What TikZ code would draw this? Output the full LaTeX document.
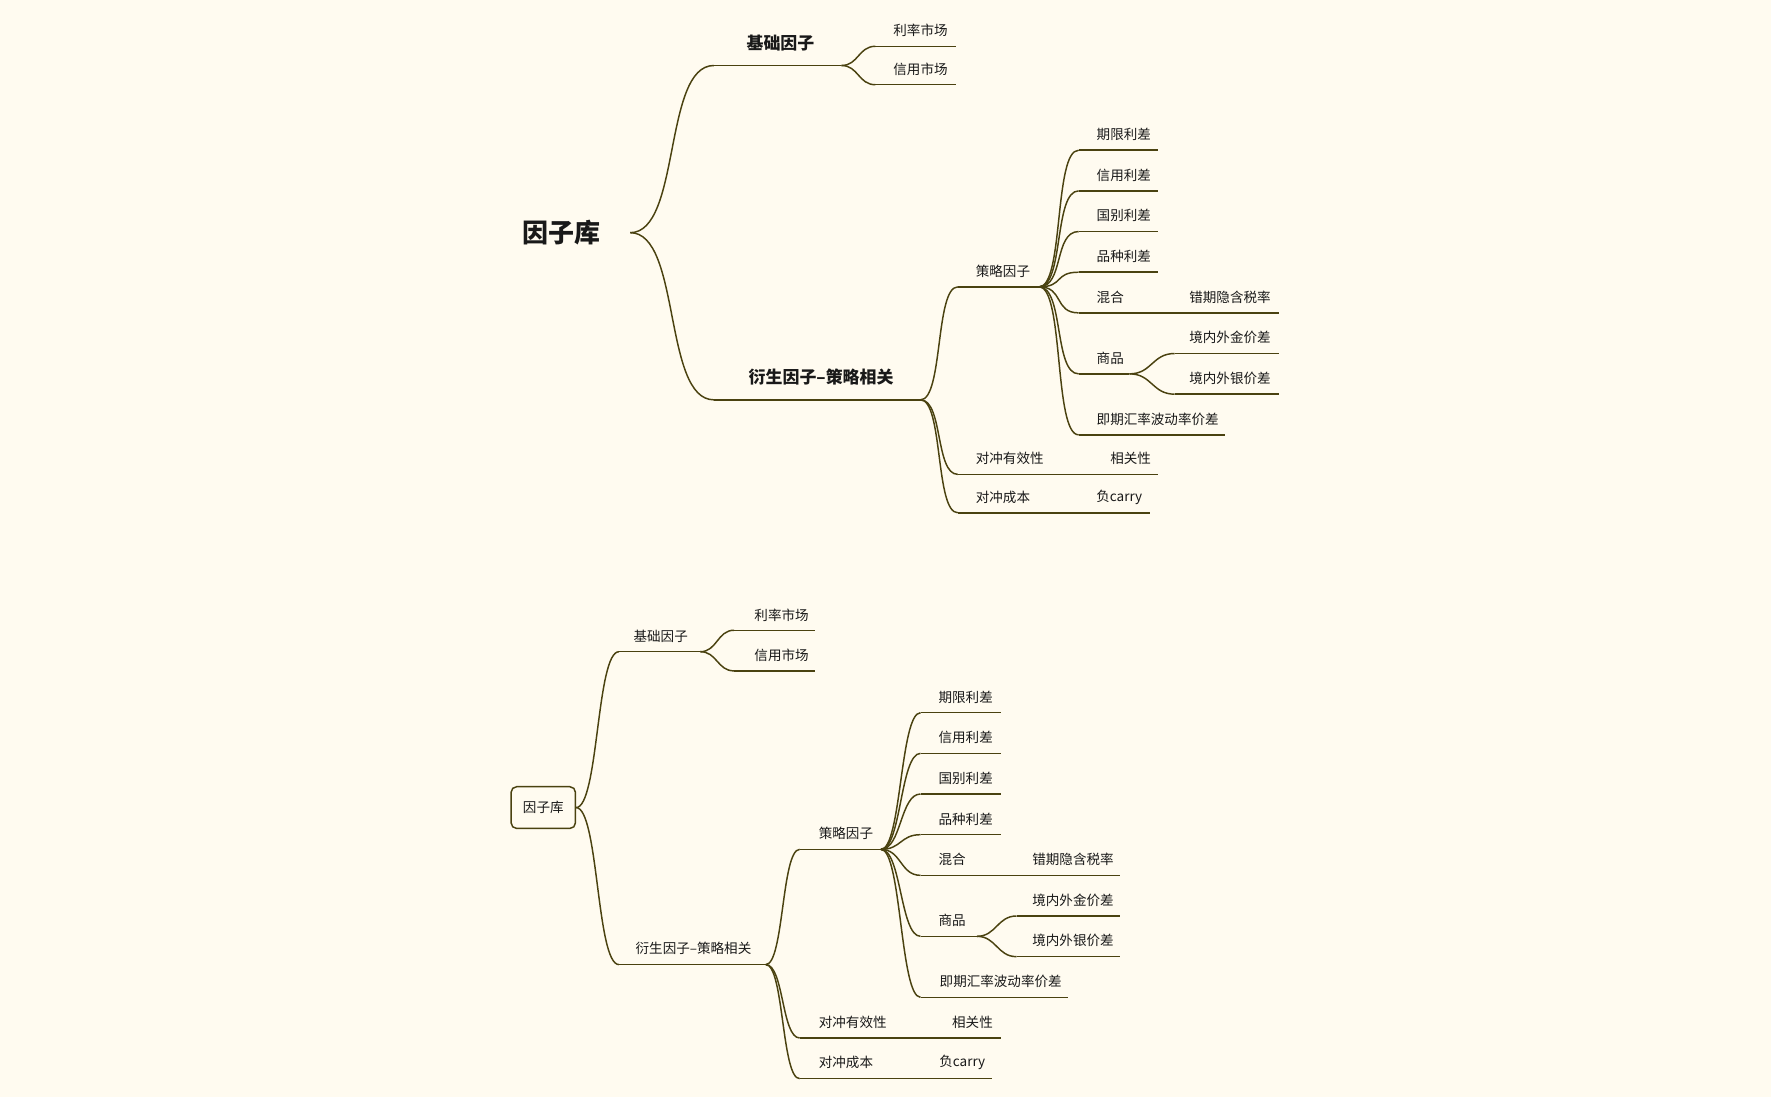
\documentclass[tikz,border=0pt]{standalone}
\usepackage{fontspec}
\setmainfont{Noto Sans CJK SC}
\begin{document}
\begin{tikzpicture}[x=1pt,y=-1pt,line width=1.3pt,
  ln/.style={draw=lc},
  lab/.style={font=\fontsize{12}{12}\selectfont,text=black!90,anchor=center,inner sep=0},
  big/.style={font=\fontsize{15}{15}\selectfont\bfseries,text=black!90,inner sep=0},
  cv/.style={draw=lc}]
\definecolor{lc}{HTML}{4A4210}
\definecolor{bg}{HTML}{FFFBF0}
\fill[bg] (0,0) rectangle (1568,971);
\useasboundingbox (0,0) rectangle (1568,971);
\newcommand\cc[3]{\draw[cv] (#1) .. controls +(#3,0) and +(-#3,0) .. (#2);}
% ---------- top map ----------
\node[big,font=\fontsize{23}{23}\selectfont\bfseries] (R1) at (497,206) {因子库};
\coordinate (r1) at (558,206);
\coordinate (a1) at (632,58); \coordinate (a1e) at (745,58);
\node[big] (ta1) at (691,38) {基础因子};
\draw[ln] (a1)--(a1e); \cc{r1}{a1}{45}
\coordinate (a11) at (775,41); \coordinate (a11e) at (846,41);
\coordinate (a12) at (775,75); \coordinate (a12e) at (846,75);
\node[lab] (ta11) at (815,27) {利率市场};
\node[lab] (ta12) at (815,61) {信用市场};
\draw[ln] (a11)--(a11e); \draw[ln] (a12)--(a12e);
\cc{a1e}{a11}{15} \cc{a1e}{a12}{15}
\coordinate (b1) at (632,354); \coordinate (b1e) at (815,354);
\node[big] (tb1) at (727,334) {衍生因子--策略相关};
\draw[ln] (b1)--(b1e); \cc{r1}{b1}{45}
\coordinate (s1) at (848,254); \coordinate (s1e) at (920,254);
\node[lab] (ts1) at (888,240) {策略因子};
\draw[ln] (s1)--(s1e); \cc{b1e}{s1}{20}
\foreach \y/\t/\n in {133/期限利差/1,169/信用利差/2,205/国别利差/3,241/品种利差/4}{
  \coordinate (p\n) at (955,\y); \coordinate (p\n e) at (1025,\y);
  \node[lab] (tp\n) at (995,\y-14) {\t};
  \draw[ln] (p\n)--(p\n e); \cc{s1e}{p\n}{22}}
\coordinate (m1) at (955,277); \coordinate (m1e) at (1040,277);
\node[lab] (tm1) at (983,263) {混合};
\draw[ln] (m1)--(m1e); \cc{s1e}{m1}{22}
\coordinate (m11e) at (1132,277);
\node[lab] (tm11) at (1089,263) {错期隐含税率};
\draw[ln] (m1e)--(m11e);
\coordinate (g1) at (955,331); \coordinate (g1e) at (1000,331);
\node[lab] (tg1) at (983,317) {商品};
\draw[ln] (g1)--(g1e); \cc{s1e}{g1}{22}
\coordinate (g11) at (1040,313); \coordinate (g11e) at (1132,313);
\coordinate (g12) at (1040,349); \coordinate (g12e) at (1132,349);
\node[lab] (tg11) at (1089,299) {境内外金价差};
\node[lab] (tg12) at (1089,335) {境内外银价差};
\draw[ln] (g11)--(g11e); \draw[ln] (g12)--(g12e);
\cc{g1e}{g11}{20} \cc{g1e}{g12}{20}
\coordinate (h1) at (955,385); \coordinate (h1e) at (1085,385);
\node[lab] (th1) at (1025,371) {即期汇率波动率价差};
\draw[ln] (h1)--(h1e); \cc{s1e}{h1}{22}
\coordinate (d1) at (848,420); \coordinate (d1e) at (960,420); \coordinate (d1f) at (1025,420);
\node[lab] (td1) at (894,406) {对冲有效性};
\node[lab] (td11) at (1001,406) {相关性};
\draw[ln] (d1)--(d1e)--(d1f); \cc{b1e}{d1}{20}
\coordinate (c1) at (848,454); \coordinate (c1e) at (920,454); \coordinate (c1f) at (1018,454);
\node[lab] (tc1) at (888,440) {对冲成本};
\node[lab] (tc11) at (991,440) {负carry};
\draw[ln] (c1)--(c1e)--(c1f); \cc{b1e}{c1}{20}
% ---------- bottom map ----------
\node[lab,draw=lc,rounded corners=5pt,minimum width=57pt,minimum height=37pt] (R2) at (481,715) {因子库};
\coordinate (r2) at (510,715);
\coordinate (a2) at (548,577); \coordinate (a2e) at (620,577);
\node[lab] (ta2) at (585,563) {基础因子};
\draw[ln] (a2)--(a2e); \cc{r2}{a2}{20}
\coordinate (a21) at (650,558); \coordinate (a21e) at (722,558);
\coordinate (a22) at (650,594); \coordinate (a22e) at (722,594);
\node[lab] (ta21) at (692,545) {利率市场};
\node[lab] (ta22) at (692,580) {信用市场};
\draw[ln] (a21)--(a21e); \draw[ln] (a22)--(a22e);
\cc{a2e}{a21}{15} \cc{a2e}{a22}{15}
\coordinate (b2) at (548,854); \coordinate (b2e) at (678,854);
\node[lab] (tb2) at (614,840) {衍生因子--策略相关};
\draw[ln] (b2)--(b2e); \cc{r2}{b2}{20}
\coordinate (s2) at (708,752); \coordinate (s2e) at (780,752);
\node[lab] (ts2) at (749,738) {策略因子};
\draw[ln] (s2)--(s2e); \cc{b2e}{s2}{16}
\foreach \y/\t/\n in {631/期限利差/1,667/信用利差/2,703/国别利差/3,739/品种利差/4}{
  \coordinate (q\n) at (815,\y); \coordinate (q\n e) at (886,\y);
  \node[lab] (tq\n) at (855,\y-14) {\t};
  \draw[ln] (q\n)--(q\n e); \cc{s2e}{q\n}{18}}
\coordinate (m2) at (815,775); \coordinate (m2e) at (900,775);
\node[lab] (tm2) at (843,761) {混合};
\draw[ln] (m2)--(m2e); \cc{s2e}{m2}{18}
\coordinate (m21e) at (992,775);
\node[lab] (tm21) at (950,761) {错期隐含税率};
\draw[ln] (m2e)--(m21e);
\coordinate (g2) at (815,829); \coordinate (g2e) at (865,829);
\node[lab] (tg2) at (843,815) {商品};
\draw[ln] (g2)--(g2e); \cc{s2e}{g2}{18}
\coordinate (g21) at (900,811); \coordinate (g21e) at (992,811);
\coordinate (g22) at (900,847); \coordinate (g22e) at (992,847);
\node[lab] (tg21) at (950,797) {境内外金价差};
\node[lab] (tg22) at (950,833) {境内外银价差};
\draw[ln] (g21)--(g21e); \draw[ln] (g22)--(g22e);
\cc{g2e}{g21}{17} \cc{g2e}{g22}{17}
\coordinate (h2) at (815,883); \coordinate (h2e) at (946,883);
\node[lab] (th2) at (886,869) {即期汇率波动率价差};
\draw[ln] (h2)--(h2e); \cc{s2e}{h2}{18}
\coordinate (d2) at (708,919); \coordinate (d2e) at (820,919); \coordinate (d2f) at (886,919);
\node[lab] (td2) at (755,905) {对冲有效性};
\node[lab] (td21) at (861,905) {相关性};
\draw[ln] (d2)--(d2e)--(d2f); \cc{b2e}{d2}{16}
\coordinate (c2) at (708,955); \coordinate (c2e) at (780,955); \coordinate (c2f) at (878,955);
\node[lab] (tc2) at (749,941) {对冲成本};
\node[lab] (tc21) at (852,941) {负carry};
\draw[ln] (c2)--(c2e)--(c2f); \cc{b2e}{c2}{16}
\end{tikzpicture}
\end{document}
